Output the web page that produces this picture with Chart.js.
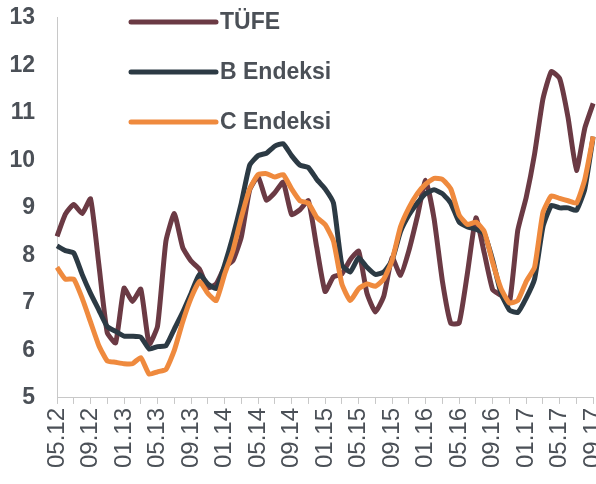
<!DOCTYPE html>
<html lang="tr">
<head>
  <meta charset="UTF-8">
  <title>TÜFE, B ve C Endeksi</title>
  <script src="https://cdn.jsdelivr.net/npm/chart.js"></script>
  <style>
    html, body {
      margin: 0;
      padding: 0;
      background: #fff;
      overflow: hidden;
    }
  </style>
</head>
<body>
  <!-- tuval pencereden biraz geniş: son etiket (09.17) kenarda kesiliyor -->
  <canvas id="chart" width="626" height="484"></canvas>

  <script>
    // aylar (05.12 - 09.17)
    const months = [
      "05.12", "06.12", "07.12", "08.12", "09.12", "10.12", "11.12", "12.12",
      "01.13", "02.13", "03.13", "04.13", "05.13", "06.13", "07.13", "08.13", "09.13", "10.13", "11.13", "12.13",
      "01.14", "02.14", "03.14", "04.14", "05.14", "06.14", "07.14", "08.14", "09.14", "10.14", "11.14", "12.14",
      "01.15", "02.15", "03.15", "04.15", "05.15", "06.15", "07.15", "08.15", "09.15", "10.15", "11.15", "12.15",
      "01.16", "02.16", "03.16", "04.16", "05.16", "06.16", "07.16", "08.16", "09.16", "10.16", "11.16", "12.16",
      "01.17", "02.17", "03.17", "04.17", "05.17", "06.17", "07.17", "08.17", "09.17"
    ];

    const tufe = [
      8.4, 8.87, 9.07, 8.88, 9.19, 7.8, 6.37, 6.16,
      7.31, 7.03, 7.29, 6.13, 6.51, 8.3, 8.88, 8.17, 7.88, 7.71, 7.32, 7.4,
      7.75, 7.89, 8.39, 9.38, 9.66, 9.16, 9.32, 9.54, 8.86, 8.96, 9.15, 8.17,
      7.24, 7.55, 7.61, 7.91, 8.09, 7.2, 6.81, 7.14, 7.95, 7.58, 8.1, 8.81,
      9.58, 8.78, 7.46, 6.57, 6.58, 7.64, 8.79, 8.05, 7.28, 7.16, 7.0, 8.53,
      9.22, 10.13, 11.29, 11.87, 11.72, 10.9, 9.79, 10.68, 11.2
    ];

    const bEndeksi = [
      8.2, 8.1, 8.05, 7.6, 7.2, 6.85, 6.5, 6.4,
      6.3, 6.3, 6.28, 6.03, 6.08, 6.1, 6.45, 6.8, 7.2, 7.6, 7.4, 7.3,
      7.8, 8.4, 9.1, 9.9, 10.1, 10.15, 10.3, 10.35, 10.1, 9.9, 9.85, 9.6,
      9.4, 9.1, 7.8, 7.65, 7.95, 7.75, 7.6, 7.65, 7.9, 8.5, 8.85, 9.1,
      9.3, 9.38, 9.3, 9.1, 8.7, 8.6, 8.55, 8.45, 7.9, 7.2, 6.85, 6.8,
      7.1, 7.5, 8.6, 9.05, 9.0, 9.0, 8.95, 9.4, 10.5
    ];

    const cEndeksi = [
      7.75, 7.5, 7.5, 7.1, 6.6, 6.1, 5.78, 5.75,
      5.72, 5.72, 5.85, 5.5, 5.55, 5.6, 6.0, 6.6, 7.1, 7.45, 7.2, 7.05,
      7.6, 8.1, 8.8, 9.4, 9.7, 9.72, 9.65, 9.7, 9.4, 9.15, 9.1, 8.8,
      8.65, 8.3, 7.4, 7.05, 7.3, 7.4, 7.35, 7.5, 7.9, 8.6, 9.0, 9.3,
      9.5, 9.62, 9.6, 9.4, 8.85, 8.65, 8.7, 8.5, 7.85, 7.3, 7.0, 7.05,
      7.45, 7.75, 8.9, 9.25, 9.2, 9.15, 9.1, 9.6, 10.5
    ];

    const textColor = "#4b5057";
    const axisColor = "#c8c8c8";
    const fontFamily = "'Liberation Sans', Arial, sans-serif";

    // grafiğin içindeki lejant (sol üst)
    const insideLegend = {
      id: "insideLegend",
      afterDraw(chart) {
        const ctx = chart.ctx;
        const items = [
          { label: "TÜFE", color: "#6b3a44", y: 22 },
          { label: "B Endeksi", color: "#2c3a44", y: 72 },
          { label: "C Endeksi", color: "#ef8a3e", y: 122 }
        ];
        ctx.save();
        ctx.font = "bold 23px " + fontFamily;
        ctx.textBaseline = "middle";
        items.forEach(it => {
          ctx.strokeStyle = it.color;
          ctx.lineWidth = 5;
          ctx.lineCap = "round";
          ctx.beginPath();
          ctx.moveTo(131, it.y);
          ctx.lineTo(216, it.y);
          ctx.stroke();
          ctx.fillStyle = textColor;
          ctx.fillText(it.label, 220, it.y + 1);
        });
        ctx.restore();
      }
    };

    new Chart(document.getElementById("chart").getContext("2d"), {
      type: "line",
      data: {
        labels: months,
        datasets: [
          {
            label: "TÜFE",
            data: tufe,
            borderColor: "#6b3a44",
            borderWidth: 5,
            pointRadius: 0,
            tension: 0.15,
            order: 3
          },
          {
            label: "B Endeksi",
            data: bEndeksi,
            borderColor: "#2c3a44",
            borderWidth: 5,
            pointRadius: 0,
            tension: 0.15,
            order: 2
          },
          {
            label: "C Endeksi",
            data: cEndeksi,
            borderColor: "#ef8a3e",
            borderWidth: 5,
            pointRadius: 0,
            tension: 0.15,
            order: 1
          }
        ]
      },
      options: {
        responsive: false,
        animation: false,
        layout: {
          padding: { top: 0, left: 0, right: 0, bottom: 12 }
        },
        scales: {
          y: {
            min: 5,
            max: 13,
            afterFit: scale => { scale.width = 57; },
            ticks: {
              stepSize: 1,
              color: textColor,
              padding: 4,
              font: { family: fontFamily, size: 23, weight: "bold" }
            },
            grid: {
              drawOnChartArea: false,
              tickLength: 18,
              tickColor: "rgba(0,0,0,0)"
            },
            border: { color: axisColor, width: 1 }
          },
          x: {
            offset: false,
            ticks: {
              autoSkip: false,
              maxRotation: 90,
              minRotation: 90,
              padding: 4,
              color: textColor,
              font: { family: fontFamily, size: 24 },
              callback: function (value, index) {
                return index % 4 === 0 ? months[index] : "";
              }
            },
            grid: {
              drawOnChartArea: false,
              tickLength: 6,
              color: ctx => (ctx.index % 2 === 0 ? axisColor : "rgba(0,0,0,0)")
            },
            border: { color: axisColor, width: 1 }
          }
        },
        plugins: {
          legend: { display: false },
          tooltip: { enabled: false }
        }
      },
      plugins: [insideLegend]
    });
  </script>
</body>
</html>
